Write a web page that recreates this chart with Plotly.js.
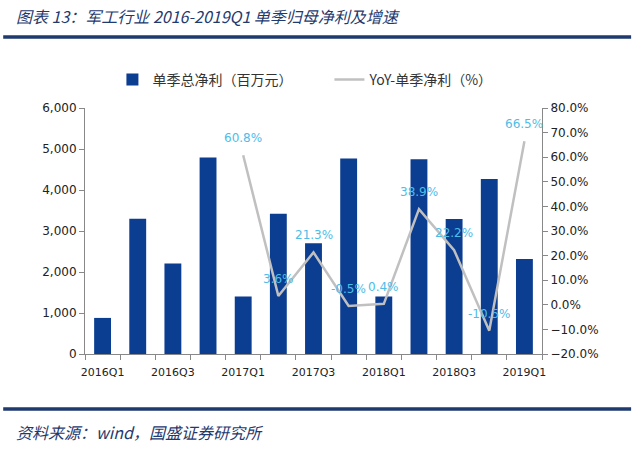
<!DOCTYPE html>
<html>
<head>
<meta charset="utf-8">
<script src="https://cdn.plot.ly/plotly-3.0.1.min.js"></script>
<style>html,body{margin:0;padding:0;background:#fff;}#chart{width:640px;height:449px;}</style>
</head>
<body>
<div id="chart"></div>
<script>
const quarters = ["2016Q1","2016Q2","2016Q3","2016Q4","2017Q1","2017Q2","2017Q3","2017Q4","2018Q1","2018Q2","2018Q3","2018Q4","2019Q1"];
const netProfit = [880, 3300, 2210, 4790, 1400, 3420, 2700, 4770, 1400, 4750, 3290, 4270, 2320];
const yoyQuarters = ["2017Q1","2017Q2","2017Q3","2017Q4","2018Q1","2018Q2","2018Q3","2018Q4","2019Q1"];
const yoy = [60.8, 3.6, 21.3, -0.5, 0.4, 38.9, 22.2, -10.5, 66.5];
const tickQuarters = ["2016Q1","2016Q3","2017Q1","2017Q3","2018Q1","2018Q3","2019Q1"];

const idx = q => quarters.indexOf(q);
const barX = quarters.map(idx);
const lineX = yoyQuarters.map(idx);

const cjk = '"Noto Sans CJK SC", "Noto Sans", sans-serif';
const latin = '"DejaVu Sans", "Noto Sans CJK SC", sans-serif';
const navy = '#1f3a6e';

const traces = [
  {type:'bar', x: barX, y: netProfit, name:'单季总净利（百万元）', marker:{color:'#0b3d91'}, width:0.48, yaxis:'y'},
  {type:'scatter', mode:'lines', x: lineX, y: yoy, name:'YoY-单季净利（%）', line:{color:'#c0c0c0', width:2.5}, yaxis:'y2'}
];

const annotations = yoyQuarters.map((q,i)=>({
  x: idx(q), y: yoy[i], xref:'x', yref:'y2', text: yoy[i].toFixed(1)+'%', showarrow:false,
  yshift:17, font:{family:latin, size:12, color:'#4dbde8'}
}));
annotations.push({
  xref:'paper', yref:'paper', x:-0.155, y:-0.318, xanchor:'left', yanchor:'middle', showarrow:false,
  text:'<i>资料来源：wind，国盛证券研究所</i>', font:{family:cjk, size:16, color:navy}
});

const layout = {
  width:640, height:449,
  margin:{l:85, r:98, t:108, b:95},
  paper_bgcolor:'#fff', plot_bgcolor:'#fff',
  title:{text:'<i>图表 13：军工行业 2016-2019Q1 单季归母净利及增速</i>', xref:'container', yref:'container', x:0.025, xanchor:'left', y:0.962, yanchor:'middle', font:{family:cjk, size:16, color:navy}},
  showlegend:true,
  legend:{orientation:'h', x:0.06, xanchor:'left', y:1.114, yanchor:'middle', font:{family:cjk, size:14, color:'#333'}, bgcolor:'rgba(0,0,0,0)', itemwidth:30, entrywidth:172, traceorder:'normal'},
  xaxis:{range:[-0.5,12.5], tickmode:'array', tickvals: tickQuarters.map(idx), ticktext: tickQuarters, ticks:'', ticklabelstandoff:8, showgrid:false, zeroline:false,
    showline:true, linecolor:'#888', linewidth:1, tickfont:{family:latin, size:11, color:'#222'},
    minor:{tick0:0.5, dtick:1, ticks:'outside', ticklen:5, tickcolor:'#888', showgrid:false}},
  yaxis:{range:[0,6000], dtick:1000, tickformat:',d', ticks:'outside', ticklen:5, tickcolor:'#888', showline:true, linecolor:'#888', showgrid:false, zeroline:false,
    tickfont:{family:latin, size:12, color:'#222'}},
  yaxis2:{range:[-20,80], dtick:10, overlaying:'y', side:'right', tickformat:'.1f', ticksuffix:'%', ticks:'outside', ticklen:5, tickcolor:'#888', showline:true, linecolor:'#888', showgrid:false, zeroline:false,
    tickfont:{family:latin, size:12, color:'#222'}},
  shapes:[
    {type:'line', xref:'paper', yref:'paper', x0:-0.179, x1:1.195, y0:1.289, y1:1.289, line:{color:navy, width:3.5}},
    {type:'line', xref:'paper', yref:'paper', x0:-0.179, x1:1.195, y0:-0.2236, y1:-0.2236, line:{color:navy, width:3.5}}
  ],
  annotations: annotations
};

Plotly.newPlot('chart', traces, layout, {displayModeBar:false, staticPlot:true});
</script>
</body>
</html>
